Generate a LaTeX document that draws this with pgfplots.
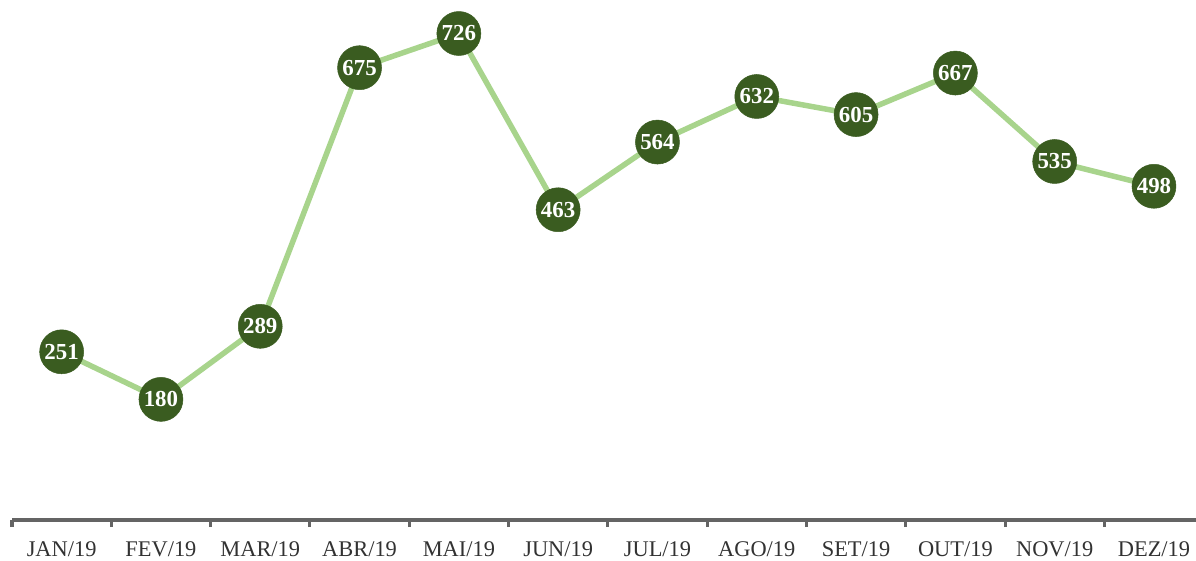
\documentclass[border=0pt]{standalone}
\usepackage{fontspec}
\setmainfont{Liberation Serif}
\usepackage{pgfplots}
\pgfplotsset{compat=1.18}
\definecolor{linegreen}{RGB}{168,212,140}
\definecolor{darkgreen}{RGB}{58,92,32}
\definecolor{axisgray}{RGB}{100,100,100}
\definecolor{labelgray}{RGB}{50,50,50}
\begin{document}
\begin{tikzpicture}
\begin{axis}[
  at={(0,0)}, anchor=south west,
  scale only axis,
  width=1184bp, height=520bp,
  xmin=-0.5, xmax=11.423,
  ymin=0, ymax=776,
  axis x line=bottom,
  axis y line=none,
  axis line style={axisgray, line width=3bp, -},
  /pgf/number format/assume math mode=true,
  xtick={0,...,11},
  xticklabels={JAN/19,FEV/19,MAR/19,ABR/19,MAI/19,JUN/19,JUL/19,AGO/19,SET/19,OUT/19,NOV/19,DEZ/19},
  major tick length=0pt,
  xticklabel style={anchor=base, yshift=-36bp, font=\fontsize{22.5}{22.5}\selectfont, text=labelgray},
  extra x ticks={-0.5,0.5,1.5,2.5,3.5,4.5,5.5,6.5,7.5,8.5,9.5,10.5},
  extra x tick labels={},
  extra x tick style={tick align=outside, major tick length=7bp, tick style={axisgray, line width=3bp}},
  clip=false,
]
\addplot[linegreen, line width=5.5bp, mark=*, mark size=22bp,
  mark options={fill=darkgreen, draw=darkgreen, line width=0.5bp},
  nodes near coords,
  nodes near coords style={anchor=center, text=white, font=\bfseries\fontsize{23}{23}\selectfont},
] coordinates {
  (0,251) (1,180) (2,289) (3,675) (4,726) (5,463)
  (6,564) (7,632) (8,605) (9,667) (10,535) (11,498)
};
\end{axis}
\pgfresetboundingbox
\useasboundingbox (-12bp,-41bp) rectangle (1184bp,520bp);
\end{tikzpicture}
\end{document}
